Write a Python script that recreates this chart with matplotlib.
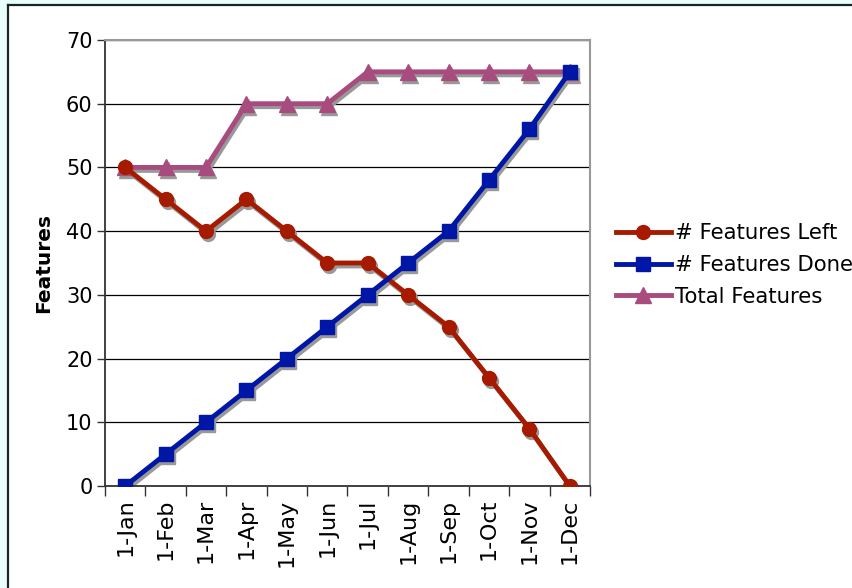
import matplotlib
matplotlib.use("Agg")
import matplotlib.pyplot as plt
import matplotlib.transforms as mtransforms
from matplotlib.ticker import FixedLocator, NullFormatter
from matplotlib.patches import Rectangle
from matplotlib.lines import Line2D

months = ["1-Jan", "1-Feb", "1-Mar", "1-Apr", "1-May", "1-Jun",
          "1-Jul", "1-Aug", "1-Sep", "1-Oct", "1-Nov", "1-Dec"]
features_left = [50, 45, 40, 45, 40, 35, 35, 30, 25, 17, 9, 0]
features_done = [0, 5, 10, 15, 20, 25, 30, 35, 40, 48, 56, 65]
total_features = [50, 50, 50, 60, 60, 60, 65, 65, 65, 65, 65, 65]

series = [
    ("# Features Left", features_left, "#A61A00", "o", 10),
    ("# Features Done", features_done, "#0016A6", "s", 10.5),
    ("Total Features", total_features, "#A84B7E", "^", 11),
]

W, H = 852, 588
plt.rcParams["font.family"] = "DejaVu Sans"
fig = plt.figure(figsize=(W / 100, H / 100), dpi=100, facecolor="#EAFDFD")

# white chart area with a dark frame on its top and left edges
bx, by = 8 / W, 1 - 5 / H
fig.patches.append(Rectangle((bx, 0), 1 - bx, by, transform=fig.transFigure,
                             facecolor="white", edgecolor="none", zorder=-5))
fig.lines.append(Line2D([bx, 1], [by, by], transform=fig.transFigure,
                        color="#142626", lw=1.6, zorder=10))
fig.lines.append(Line2D([bx, bx], [0, by], transform=fig.transFigure,
                        color="#142626", lw=1.6, zorder=10))

ax = fig.add_axes([105 / W, 1 - 486 / H, (590 - 105) / W, (486 - 40) / H])

x = list(range(len(months)))
shadow = mtransforms.offset_copy(ax.transData, fig=fig, x=2, y=-3, units="dots")

order = [2, 0, 1]
for i in order:
    name, vals, col, mk, ms = series[i]
    ax.plot(x, vals, color="#999999", lw=3.5, marker=mk, ms=ms, mec="#999999",
            mfc="#999999", transform=shadow, zorder=2, solid_joinstyle="miter")
handles = {}
for i in order:
    name, vals, col, mk, ms = series[i]
    h, = ax.plot(x, vals, color=col, lw=3.5, marker=mk, ms=ms, mec=col, mfc=col,
                 zorder=3, label=name, solid_joinstyle="miter")
    handles[i] = h

ax.set_xlim(-0.5, len(months) - 0.5)
ax.set_ylim(0, 70)
ax.set_yticks(range(0, 71, 10))
ax.tick_params(axis="y", labelsize=15, length=6, width=1, color="#333333", direction="out", pad=3)
ax.yaxis.grid(True, color="black", lw=0.9)
ax.set_axisbelow(True)

ax.xaxis.set_major_locator(FixedLocator([i - 0.5 for i in range(len(months) + 1)]))
ax.xaxis.set_major_formatter(NullFormatter())
ax.xaxis.set_minor_locator(FixedLocator(x))
ax.set_xticklabels(months, minor=True, rotation=90, fontsize=16)
ax.tick_params(axis="x", which="major", length=7, width=1, color="#333333", direction="out")
ax.tick_params(axis="x", which="minor", length=0, pad=9)

for side in ("top", "right"):
    ax.spines[side].set_color("#999999")
    ax.spines[side].set_linewidth(1.5)
for side in ("left", "bottom"):
    ax.spines[side].set_color("#333333")
    ax.spines[side].set_linewidth(1.3)

fig.text(44 / W, 1 - 263 / H, "Features", rotation=90, fontsize=14.5,
         fontweight="bold", ha="center", va="center")

ax.legend([handles[0], handles[1], handles[2]],
          [s[0] for s in series], loc="center left",
          bbox_to_anchor=(607 / W, 1 - 265 / H), bbox_transform=fig.transFigure,
          frameon=False, fontsize=15.3, handlelength=2.6, handletextpad=0.2,
          labelspacing=0.55, borderaxespad=0)

fig.savefig("out.png", dpi=100, facecolor=fig.get_facecolor())
